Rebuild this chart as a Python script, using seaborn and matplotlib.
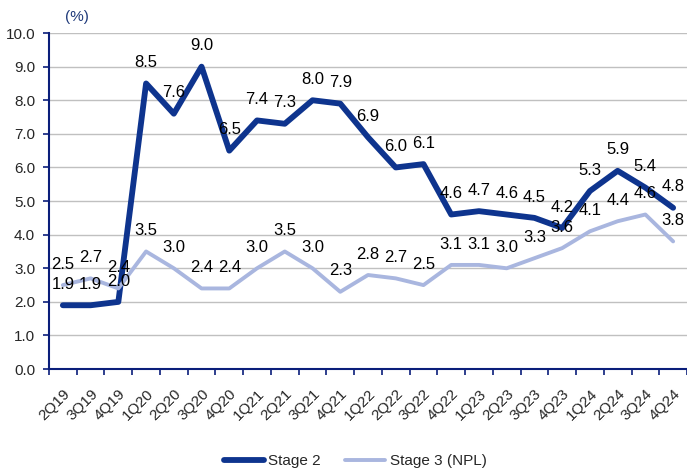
import numpy as np
import pandas as pd
import matplotlib
matplotlib.use("Agg")
import matplotlib.pyplot as plt
from matplotlib.ticker import FixedLocator
import seaborn as sns

quarters = ["2Q19", "3Q19", "4Q19", "1Q20", "2Q20", "3Q20", "4Q20", "1Q21", "2Q21", "3Q21",
            "4Q21", "1Q22", "2Q22", "3Q22", "4Q22", "1Q23", "2Q23", "3Q23", "4Q23", "1Q24",
            "2Q24", "3Q24", "4Q24"]
stage2 = [1.9, 1.9, 2.0, 8.5, 7.6, 9.0, 6.5, 7.4, 7.3, 8.0, 7.9, 6.9, 6.0, 6.1, 4.6, 4.7,
          4.6, 4.5, 4.2, 5.3, 5.9, 5.4, 4.8]
stage3 = [2.5, 2.7, 2.4, 3.5, 3.0, 2.4, 2.4, 3.0, 3.5, 3.0, 2.3, 2.8, 2.7, 2.5, 3.1, 3.1,
          3.0, 3.3, 3.6, 4.1, 4.4, 4.6, 3.8]

sns.set_style("white")
plt.rcParams["font.family"] = ["Liberation Sans", "DejaVu Sans"]

c2 = "#0E348E"
c3 = "#A9B6DF"
navy = "#0A1E7A"

pos = np.arange(len(quarters))
df = pd.DataFrame({"pos": pos, "Stage 2": stage2, "Stage 3 (NPL)": stage3})

fig = plt.figure(figsize=(6.87, 4.72), dpi=100)
ax = fig.add_axes([0.0713, 0.218, 0.9287, 0.712])

# 그리드 먼저
ax.set_axisbelow(True)
ax.grid(axis="y", color="#C0C0C0", linewidth=1.0)

sns.lineplot(data=df, x="pos", y="Stage 2", color=c2, linewidth=4.2, label="Stage 2", ax=ax)
sns.lineplot(data=df, x="pos", y="Stage 3 (NPL)", color=c3, linewidth=2.8, label="Stage 3 (NPL)", ax=ax)

# 데이터 라벨
for x, v in zip(pos, stage2):
    ax.annotate(f"{v:.1f}", (x, v), xytext=(0, 15), textcoords="offset points",
                ha="center", va="center", fontsize=12, color="black")
for x, v in zip(pos, stage3):
    ax.annotate(f"{v:.1f}", (x, v), xytext=(0, 15), textcoords="offset points",
                ha="center", va="center", fontsize=12, color="black")

ax.set_xlim(-0.5, len(quarters) - 0.5)
ax.set_ylim(0, 10)
ax.set_yticks(np.arange(0, 10.01, 1.0))
ax.set_yticklabels([f"{t:.1f}" for t in np.arange(0, 10.01, 1.0)], fontsize=11)

ax.set_xticks(pos)
ax.set_xticklabels(quarters, rotation=45, ha="right", rotation_mode="anchor", fontsize=11)
ax.xaxis.set_minor_locator(FixedLocator(np.arange(-0.5, len(quarters), 1.0)))
ax.tick_params(axis="x", which="major", length=0, pad=13)
ax.tick_params(axis="x", which="minor", length=4, width=1.2, color=navy, direction="out", bottom=True)
ax.tick_params(axis="y", length=4, width=1.2, color=navy, direction="out", left=True, pad=6)

ax.set_xlabel("")
ax.set_ylabel("")
for s in ["top", "right"]:
    ax.spines[s].set_visible(False)
for s in ["left", "bottom"]:
    ax.spines[s].set_color(navy)
    ax.spines[s].set_linewidth(1.5)

fig.text(0.112, 0.963, "(%)", fontsize=11, color="#1F3A7A", ha="center", va="center")

ax.legend(loc="lower center", bbox_to_anchor=(0.48, -0.335), ncol=2, frameon=False,
          fontsize=11, handlelength=2.6, columnspacing=1.6, handletextpad=0.3)

fig.savefig("out.png", dpi=100)
